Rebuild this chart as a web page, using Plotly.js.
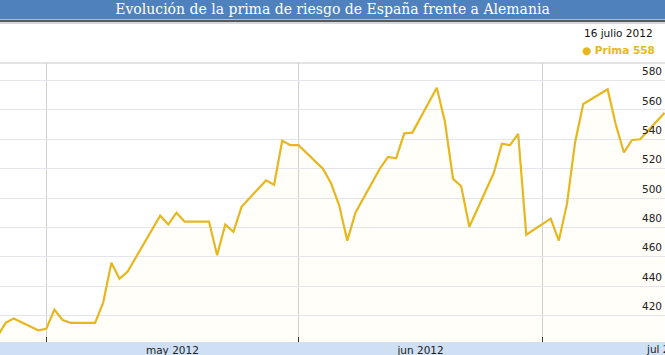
<!DOCTYPE html>
<html>
<head>
<meta charset="utf-8">
<script src="https://cdn.plot.ly/plotly-3.0.1.min.js"></script>
<style>
html,body{margin:0;padding:0;background:#fff;}
#chart{width:665px;height:355px;}
</style>
</head>
<body>
<div id="chart"></div>
<script>
// Trading dates
const dates = [
  '2012-04-25','2012-04-26','2012-04-27','2012-04-30',
  '2012-05-01','2012-05-02','2012-05-03','2012-05-04',
  '2012-05-07','2012-05-08','2012-05-09','2012-05-10','2012-05-11',
  '2012-05-14','2012-05-15','2012-05-16','2012-05-17','2012-05-18',
  '2012-05-21','2012-05-22','2012-05-23','2012-05-24','2012-05-25',
  '2012-05-28','2012-05-29','2012-05-30','2012-05-31','2012-06-01',
  '2012-06-04','2012-06-05','2012-06-06','2012-06-07','2012-06-08',
  '2012-06-11','2012-06-12','2012-06-13','2012-06-14','2012-06-15',
  '2012-06-18','2012-06-19','2012-06-20','2012-06-21','2012-06-22',
  '2012-06-25','2012-06-26','2012-06-27','2012-06-28','2012-06-29',
  '2012-07-02','2012-07-03','2012-07-04','2012-07-05','2012-07-06',
  '2012-07-09','2012-07-10','2012-07-11','2012-07-12','2012-07-13',
  '2012-07-16'
];
// Risk premium (basis points)
const prima = [
  406, 415, 418, 410,
  411, 424, 417, 415,
  415, 429, 456, 445, 450,
  479, 488, 482, 490, 484,
  484, 461, 482, 477, 494,
  512, 509, 539, 536, 536,
  520, 510, 495, 471, 490,
  520, 528, 527, 544, 544.5,
  575, 552, 513, 508, 480.5,
  517, 537, 536, 543.6, 475,
  486, 471, 496, 538, 564,
  574, 550, 531, 539.5, 540,
  558
];
const yTicks = [420, 440, 460, 480, 500, 520, 540, 560, 580];
const monthTickVals = ['2012-05-16 12:00', '2012-06-16'];
const monthTickText = ['may 2012', 'jun 2012'];
const cutLabel = 'jul 2012';
const titleText = 'Evolución de la prima de riesgo de España frente a Alemania';
const dateLabel = '16 julio 2012';
const seriesName = 'Prima';
const lastValue = 558;

const gold = '#e6b71e';
const H = 279; // plot height px
function py(px){ return (342 - px) / H; }

const trace = {
  x: dates, y: prima, type: 'scatter', mode: 'lines',
  line: {color: gold, width: 2.2},
  fill: 'tozeroy', fillcolor: 'rgba(255,235,160,0.06)',
  hoverinfo: 'skip', name: seriesName
};

const layout = {
  width: 665, height: 355,
  margin: {l: 0, r: 0, t: 63, b: 13, pad: 0},
  paper_bgcolor: '#ffffff', plot_bgcolor: '#ffffff',
  showlegend: false,
  title: {
    text: titleText,
    font: {family: 'DejaVu Serif', size: 14, color: '#ffffff'},
    x: 0.5, xanchor: 'center', xref: 'paper',
    y: 1 - 9.5/355, yanchor: 'middle', yref: 'container'
  },
  xaxis: {
    type: 'date',
    range: ['2012-04-25 07:26', '2012-07-16 01:12'],
    tickvals: monthTickVals, ticktext: monthTickText,
    ticks: '', showgrid: false, zeroline: false, showline: false,
    tickfont: {family: 'DejaVu Sans', size: 10.5, color: '#222'},
    ticklabelstandoff: 0,
    minor: {
      dtick: 'M1', tick0: '2012-05-01',
      showgrid: true, gridcolor: '#cfcfcf', gridwidth: 1,
      ticks: 'inside', ticklen: 5, tickcolor: '#333', tickwidth: 1
    },
    fixedrange: true
  },
  yaxis: {
    side: 'right',
    range: [402, 591.9],
    tickvals: yTicks,
    ticklabelposition: 'inside',
    ticklabelshift: -9,
    ticks: '',
    showgrid: true, gridcolor: '#e4e4ec', gridwidth: 1,
    zeroline: false, showline: false,
    tickfont: {family: 'DejaVu Sans', size: 10.5, color: '#222'},
    fixedrange: true
  },
  shapes: [
    {type: 'rect', xref: 'paper', yref: 'paper', x0: 0, x1: 1, y0: py(19.5), y1: py(0), fillcolor: '#4f81bd', line: {width: 0}, layer: 'below'},
    {type: 'line', xref: 'paper', yref: 'paper', x0: 0, x1: 1, y0: py(21), y1: py(21), line: {color: '#5a5a5a', width: 2}},
    {type: 'line', xref: 'paper', yref: 'paper', x0: 0, x1: 1, y0: py(23), y1: py(23), line: {color: '#d8d8d8', width: 2}},
    {type: 'line', xref: 'paper', yref: 'paper', x0: 0, x1: 1, y0: 1, y1: 1, line: {color: '#c8c8c8', width: 1}},
    {type: 'rect', xref: 'paper', yref: 'paper', x0: 0, x1: 1, y0: py(355), y1: py(342), fillcolor: '#cfe0f5', line: {width: 0}, layer: 'below'}
  ],
  annotations: [
    {xref: 'paper', yref: 'paper', x: 0.985, y: py(33), xanchor: 'right', yanchor: 'middle', showarrow: false,
     text: dateLabel, font: {family: 'DejaVu Sans', size: 10.5, color: '#111'}},
    {xref: 'paper', yref: 'paper', x: 0.988, y: py(49.5), xanchor: 'right', yanchor: 'middle', showarrow: false,
     text: '<b>● ' + seriesName + ' ' + lastValue + '</b>', font: {family: 'DejaVu Sans', size: 10.5, color: gold}},
    {xref: 'paper', yref: 'paper', x: 1.005, y: py(349), xanchor: 'center', yanchor: 'middle', showarrow: false,
     text: cutLabel, font: {family: 'DejaVu Sans', size: 10.5, color: '#222'}}
  ]
};

Plotly.newPlot('chart', [trace], layout, {displayModeBar: false, staticPlot: true});
</script>
</body>
</html>
